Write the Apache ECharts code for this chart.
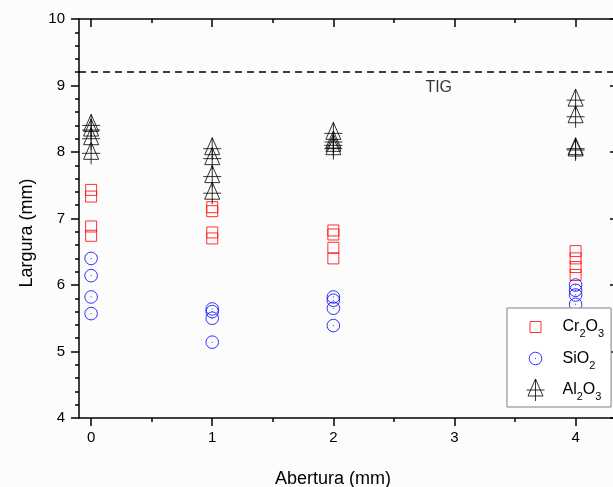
<!DOCTYPE html>
<html><head><meta charset="utf-8">
<script src="https://cdn.jsdelivr.net/npm/echarts@6/dist/echarts.min.js"></script>
<style>html,body{margin:0;padding:0;background:#fcfcfc}#c{width:613px;height:487px}</style>
</head><body><div id="c"></div>
<script>
// ---- data ----
const abertura = [0,0,0,0, 1,1,1,1, 2,2,2,2, 4,4,4,4];
const cr2o3 = [7.43,7.33,6.88,6.74, 7.17,7.11,6.79,6.70, 6.82,6.76,6.56,6.40, 6.51,6.40,6.27,6.15];
const sio2  = [6.40,6.14,5.82,5.57, 5.64,5.60,5.50,5.14, 5.82,5.77,5.65,5.39, 6.00,5.92,5.85,5.71];
const al2o3 = [8.40,8.33,8.20,7.98, 8.05,7.90,7.63,7.38, 8.28,8.15,8.10,8.05, 8.78,8.53,8.05,8.03];
const seriesNames = ['Cr2O3', 'SiO2', 'Al2O3'];
const xMajorTicks = [0, 1, 2, 3, 4];
const xMinorTicks = [0.5, 1.5, 2.5, 3.5];
const tigLevel = 9.2;
const tigText = 'TIG';
const tigTextPos = [2.87, 8.97];
const xTitle = 'Abertura (mm)';
const yTitle = 'Largura (mm)';

// ---- style ----
const FONT = '"Liberation Sans", Arial, sans-serif';
const SQ = 'path://M0,0 M22,22 M5.5,5.5 L16.5,5.5 L16.5,16.5 L5.5,16.5 Z';
const CI = 'path://M0,0 M22,22 M4.7,11 A6.3,6.3 0 1,1 17.3,11 A6.3,6.3 0 1,1 4.7,11 Z M11,10.5 L11,11.5';
const TR = 'path://M0,0 M22,22 M11,0 L18.5,17 L3.5,17 Z M11,0 L11,22 M2,11 L20,11';
const X_MIN = -0.1, X_MAX = 4.35;
const axisLS = {color: '#000', width: 1.5};

function pts(vals) { return abertura.map((x, i) => [x, vals[i]]); }
function sc(name, vals, sym, color) {
  return {
    name, type: 'scatter', data: pts(vals), symbol: sym, symbolSize: 22, symbolKeepAspect: true,
    itemStyle: {color: 'rgba(0,0,0,0)', borderColor: color, borderWidth: 1},
    emphasis: {disabled: true}, animation: false
  };
}
function xAx(pos, ticks, len, inside, showLine, showLabel) {
  return {
    type: 'value', position: pos, min: X_MIN, max: X_MAX,
    axisLine: {show: showLine, onZero: false, lineStyle: axisLS},
    axisTick: {show: true, customValues: ticks, length: len, inside, lineStyle: axisLS},
    axisLabel: showLabel ? {show: true, customValues: ticks, margin: 12, fontSize: 15, color: '#000', fontFamily: FONT} : {show: false},
    splitLine: {show: false}
  };
}
function yAx(pos, inside, showLabel) {
  return {
    type: 'value', position: pos, min: 4, max: 10, interval: 1,
    axisLine: {show: true, onZero: false, lineStyle: axisLS},
    axisTick: {show: true, length: 8, inside, lineStyle: axisLS},
    minorTick: {show: true, splitNumber: 5, length: 4, lineStyle: axisLS},
    axisLabel: showLabel ? {show: true, margin: 14, fontSize: 15, color: '#000', fontFamily: FONT} : {show: false},
    splitLine: {show: false}, minorSplitLine: {show: false}
  };
}

const chart = echarts.init(document.getElementById('c'), null, {renderer: 'canvas'});
chart.setOption({
  backgroundColor: '#fcfcfc',
  animation: false,
  textStyle: {fontFamily: FONT},
  grid: {left: 79, top: 19, width: 539, bottom: 69, containLabel: false, outerBoundsMode: 'none'},
  xAxis: [
    xAx('bottom', xMajorTicks, 8, false, true, true),
    xAx('bottom', xMinorTicks, 4, false, false, false),
    xAx('top', xMajorTicks, 8, true, true, false),
    xAx('top', xMinorTicks, 4, true, false, false)
  ],
  yAxis: [yAx('left', false, true), yAx('right', true, false)],
  legend: {
    data: seriesNames, orient: 'vertical', left: 507, top: 308,
    padding: [7.5, 7, 4.5, 17], itemGap: 7.5, itemWidth: 22, itemHeight: 22,
    backgroundColor: '#ffffff', borderColor: '#808080', borderWidth: 1, borderRadius: 0,
    selectedMode: false,
    itemStyle: {borderWidth: 1},
    formatter: n => n.replace(/(\d)/g, '{s|$1}'),
    textStyle: {
      fontSize: 16, color: '#000', fontFamily: FONT, padding: [0, 0, 0, 11],
      rich: {s: {fontSize: 11, color: '#000', fontFamily: FONT, padding: [14, 0, 0, 0]}}
    }
  },
  graphic: [
    {type: 'text', x: 27, y: 233, rotation: Math.PI / 2,
     style: {text: yTitle, font: '18px ' + FONT, fill: '#000', align: 'center', verticalAlign: 'middle'}},
    {type: 'text', x: 333, y: 479,
     style: {text: xTitle, font: '18px ' + FONT, fill: '#000', align: 'center', verticalAlign: 'middle'}}
  ],
  series: [
    sc(seriesNames[0], cr2o3, SQ, '#ff0000'),
    sc(seriesNames[1], sio2, CI, '#0000ff'),
    sc(seriesNames[2], al2o3, TR, '#000000'),
    {
      name: 'tig', type: 'scatter', data: [tigTextPos], symbolSize: 1,
      itemStyle: {color: 'rgba(0,0,0,0)'}, emphasis: {disabled: true}, silent: true,
      label: {show: true, position: 'inside', formatter: tigText, color: '#000', fontSize: 16, fontFamily: FONT},
      markLine: {
        silent: true, symbol: ['none', 'none'], label: {show: false}, animation: false,
        lineStyle: {type: [7, 5], color: '#000', width: 1.5},
        data: [{yAxis: tigLevel}]
      }
    }
  ]
});
</script></body></html>
